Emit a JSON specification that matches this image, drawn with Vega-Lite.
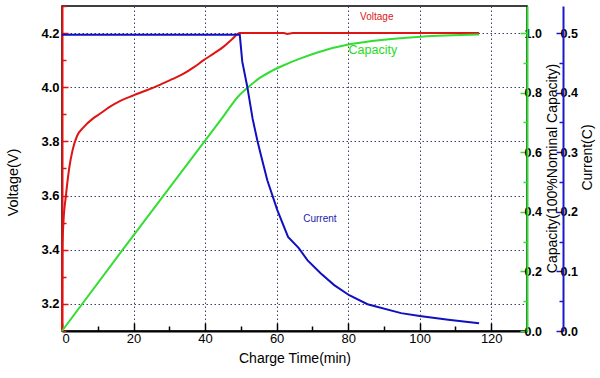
{
  "$schema": "https://vega.github.io/schema/vega-lite/v6.json",
  "width": 465,
  "height": 325,
  "autosize": "none",
  "padding": {"left": 62, "top": 6, "right": 73, "bottom": 47},
  "config": {
    "font": "Liberation Sans",
    "view": {"stroke": "black", "strokeWidth": 1.5},
    "axis": {"labelColor": "black", "titleColor": "black", "titleFontWeight": "normal"}
  },
  "datasets": {
    "voltage": [
      {"t": 0, "v": 3.1}, {"t": 0.1, "v": 3.4}, {"t": 0.4, "v": 3.5}, {"t": 1.1, "v": 3.6},
      {"t": 2.0, "v": 3.7}, {"t": 3.0, "v": 3.77}, {"t": 4.2, "v": 3.82}, {"t": 6.0, "v": 3.852},
      {"t": 8.8, "v": 3.886}, {"t": 10.7, "v": 3.903}, {"t": 13.0, "v": 3.925}, {"t": 16.3, "v": 3.95},
      {"t": 20.0, "v": 3.97}, {"t": 23.5, "v": 3.988}, {"t": 27.5, "v": 4.01}, {"t": 30.8, "v": 4.03},
      {"t": 34.0, "v": 4.05}, {"t": 37.0, "v": 4.075}, {"t": 39.6, "v": 4.1}, {"t": 42.5, "v": 4.125},
      {"t": 45.2, "v": 4.15}, {"t": 47.6, "v": 4.178}, {"t": 49.7, "v": 4.2},
      {"t": 62.0, "v": 4.2}, {"t": 63.0, "v": 4.197}, {"t": 64.5, "v": 4.2}, {"t": 116.6, "v": 4.2}
    ],
    "capacity": [
      {"t": 0, "v": 0}, {"t": 16.3, "v": 0.262}, {"t": 44.7, "v": 0.714}, {"t": 49.7, "v": 0.793},
      {"t": 51.8, "v": 0.816}, {"t": 55.1, "v": 0.848}, {"t": 58.5, "v": 0.872}, {"t": 62.0, "v": 0.892},
      {"t": 66.7, "v": 0.915}, {"t": 71.4, "v": 0.935}, {"t": 80.7, "v": 0.963}, {"t": 90.0, "v": 0.978},
      {"t": 100.4, "v": 0.988}, {"t": 116.6, "v": 0.995}
    ],
    "current": [
      {"t": 0, "v": 0.497}, {"t": 49.7, "v": 0.497}, {"t": 50.4, "v": 0.452}, {"t": 51.8, "v": 0.41},
      {"t": 53.3, "v": 0.356}, {"t": 54.6, "v": 0.32}, {"t": 55.5, "v": 0.298}, {"t": 57.4, "v": 0.253},
      {"t": 60.2, "v": 0.203}, {"t": 63.2, "v": 0.158}, {"t": 66.2, "v": 0.139}, {"t": 68.6, "v": 0.119},
      {"t": 72.3, "v": 0.097}, {"t": 76.1, "v": 0.077}, {"t": 80.3, "v": 0.06}, {"t": 85.4, "v": 0.045},
      {"t": 94.8, "v": 0.03}, {"t": 100, "v": 0.025}, {"t": 108, "v": 0.019}, {"t": 116.6, "v": 0.013}
    ],
    "labels": [
      {"series": "Voltage", "t": 88.0, "v": 4.259, "label": "Voltage"},
      {"series": "Capacity", "t": 86.9, "v": 0.943, "label": "Capacity"},
      {"series": "Current", "t": 72.1, "v": 0.188, "label": "Current"}
    ]
  },
  "encoding": {
    "x": {
      "field": "t", "type": "quantitative",
      "scale": {"domain": [0, 130], "nice": false},
      "axis": {
        "values": [0, 10, 20, 30, 40, 50, 60, 70, 80, 90, 100, 110, 120],
        "labelExpr": "datum.value % 20 == 0 ? format(datum.value, 'd') : ''",
        "title": "Charge Time(min)",
        "titleFontSize": 14, "titlePadding": 6,
        "labelFontSize": 13, "labelPadding": 9,
        "domainColor": "black", "domainWidth": 2,
        "tickColor": "black", "tickWidth": 1.5,
        "tickSize": {"condition": {"test": "datum.value % 20 == 0", "value": -8}, "value": -5},
        "grid": true, "gridColor": "#404070", "gridDash": [1.5, 2.5], "gridWidth": 1,
        "gridOpacity": {"condition": {"test": "datum.value % 20 == 0 && datum.value > 0", "value": 1}, "value": 0}
      }
    }
  },
  "layer": [
    {
      "encoding": {
        "y": {
          "field": "v", "type": "quantitative",
          "scale": {"domain": [3.1, 4.3], "nice": false, "zero": false},
          "axis": {
            "orient": "left",
            "values": [3.1, 3.2, 3.3, 3.4, 3.5, 3.6, 3.7, 3.8, 3.9, 4.0, 4.1, 4.2, 4.3],
            "labelExpr": "round(datum.value*10) % 2 == 0 ? format(datum.value, '.1f') : ''",
            "labelFontSize": 13, "labelFontWeight": "bold", "labelPadding": 9,
            "domainColor": "#e01414", "domainWidth": 2,
            "tickColor": "#e01414", "tickWidth": 1.5,
            "tickSize": {"condition": {"test": "round(datum.value*10) % 2 == 0", "value": -6}, "value": -4},
            "grid": true, "gridColor": "#404070", "gridDash": [1.5, 2.5], "gridWidth": 1,
            "gridOpacity": {"condition": {"test": "round(datum.value*10) % 2 == 0 && datum.value > 3.15 && datum.value < 4.25", "value": 1}, "value": 0},
            "title": "Voltage(V)", "titleFontSize": 14.5,
            "titleAngle": 270, "titleAlign": "center", "titleBaseline": "middle",
            "titleX": -49, "titleY": 176
          }
        }
      },
      "layer": [
        {"data": {"name": "voltage"}, "mark": {"type": "line", "color": "#e01414", "strokeWidth": 2, "interpolate": "monotone"}},
        {
          "data": {"name": "labels"},
          "transform": [{"filter": "datum.series == 'Voltage'"}],
          "mark": {"type": "text", "color": "#d81818", "fontSize": 10},
          "encoding": {"text": {"field": "label"}}
        }
      ]
    },
    {
      "encoding": {
        "y": {
          "field": "v", "type": "quantitative",
          "scale": {"domain": [0, 1.0909], "nice": false},
          "axis": {
            "orient": "right",
            "values": [0, 0.1, 0.2, 0.3, 0.4, 0.5, 0.6, 0.7, 0.8, 0.9, 1.0],
            "labelExpr": "round(datum.value*10) % 2 == 0 ? format(datum.value, '.1f') : ''",
            "labelFontSize": 12.5, "labelFontWeight": "bold", "labelPadding": 4,
            "domainColor": "#33dd33", "domainWidth": 2,
            "tickColor": "#33dd33", "tickWidth": 1.5,
            "tickSize": {"condition": {"test": "round(datum.value*10) % 2 == 0", "value": -7}, "value": -4},
            "grid": false,
            "title": "Capacity(100%Nominal Capacity)", "titleFontSize": 14,
            "titleAngle": 270, "titleAlign": "center", "titleBaseline": "middle",
            "titleX": 25.5, "titleY": 162
          }
        }
      },
      "layer": [
        {"data": {"name": "capacity"}, "mark": {"type": "line", "color": "#33dd33", "strokeWidth": 2, "interpolate": "monotone"}},
        {
          "data": {"name": "labels"},
          "transform": [{"filter": "datum.series == 'Capacity'"}],
          "mark": {"type": "text", "color": "#22dd22", "fontSize": 12.5},
          "encoding": {"text": {"field": "label"}}
        }
      ]
    },
    {
      "encoding": {
        "y": {
          "field": "v", "type": "quantitative",
          "scale": {"domain": [0, 0.54545], "nice": false},
          "axis": {
            "orient": "right", "offset": 36,
            "values": [0, 0.05, 0.1, 0.15, 0.2, 0.25, 0.3, 0.35, 0.4, 0.45, 0.5],
            "labelExpr": "round(datum.value*20) % 2 == 0 ? format(datum.value, '.1f') : ''",
            "labelFontSize": 12.5, "labelFontWeight": "bold", "labelPadding": 4,
            "domainColor": "#1a1acc", "domainWidth": 2,
            "tickColor": "#1a1acc", "tickWidth": 1.5,
            "tickSize": {"condition": {"test": "round(datum.value*20) % 2 == 0", "value": -7}, "value": -4},
            "grid": false,
            "title": "Current(C)", "titleFontSize": 14,
            "titleAngle": 270, "titleAlign": "center", "titleBaseline": "middle",
            "titleX": 24.5, "titleY": 151
          }
        }
      },
      "layer": [
        {"data": {"name": "current"}, "mark": {"type": "line", "color": "#1010c0", "strokeWidth": 2}},
        {
          "data": {"name": "labels"},
          "transform": [{"filter": "datum.series == 'Current'"}],
          "mark": {"type": "text", "color": "#2222aa", "fontSize": 10},
          "encoding": {"text": {"field": "label"}}
        }
      ]
    }
  ],
  "resolve": {"scale": {"y": "independent"}, "axis": {"y": "independent"}}
}
